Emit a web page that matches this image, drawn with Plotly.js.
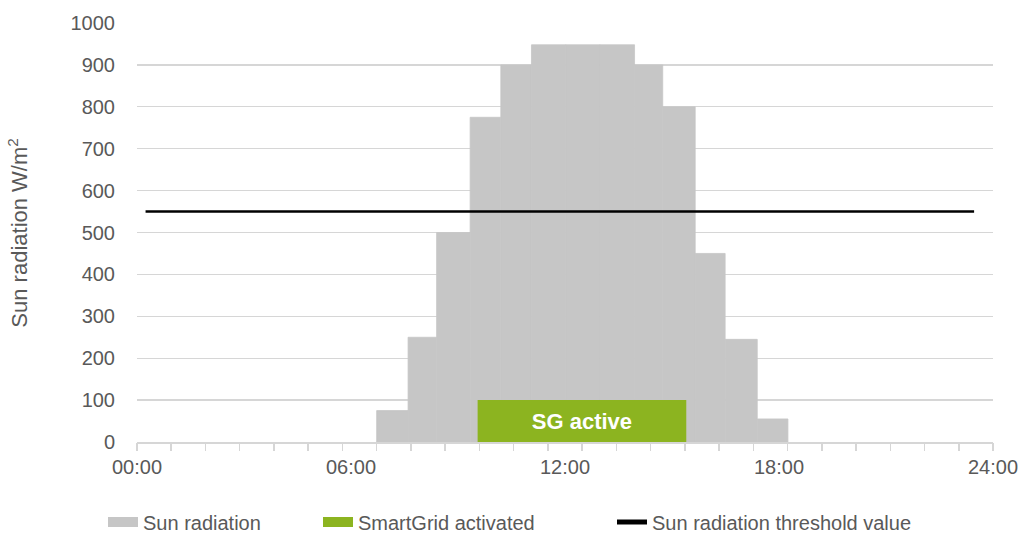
<!DOCTYPE html>
<html>
<head>
<meta charset="utf-8">
<script src="https://cdn.plot.ly/plotly-3.0.1.min.js"></script>
<style>html,body{margin:0;padding:0;background:#fff;}#chart{width:1025px;height:533px;}</style>
</head>
<body>
<div id="chart"></div>
<script>
// ---- data (hours of day / W per m²) ----
var radiationEdges = [6.72, 7.60, 8.40, 9.34, 10.20, 11.06, 12.02, 12.98, 13.95, 14.74, 15.65, 16.49, 17.39, 18.25];
var radiationValues = [75, 250, 500, 775, 900, 948, 948, 948, 900, 800, 450, 245, 55];
var smartGridStart = 9.55;
var smartGridEnd = 15.40;
var smartGridValue = 100;
var smartGridLabel = 'SG active';
var thresholdX = [0.24, 23.47];
var thresholdValue = 550;
var xTickVals = [0, 6, 12, 18, 24];
var xTickText = ['00:00', '06:00', '12:00', '18:00', '24:00'];
var yTickVals = [0, 100, 200, 300, 400, 500, 600, 700, 800, 900, 1000];
var seriesNames = ['Sun radiation', 'SmartGrid activated', 'Sun radiation threshold value'];
var minorTickCount = 25;

// ---- derived ----
var barX = [], barW = [];
for (var i = 0; i < radiationValues.length; i++) {
  barX.push((radiationEdges[i] + radiationEdges[i + 1]) / 2);
  barW.push(radiationEdges[i + 1] - radiationEdges[i]);
}
var minorTicks = [];
for (var k = 0; k <= minorTickCount; k++) minorTicks.push(24 * k / minorTickCount);

var GRAY = '#c6c6c6', GREEN = '#8cb420', TXT = '#595959', GRID = '#d6d6d6';
var FONT = 'Liberation Sans, Arial, sans-serif';

var traces = [
  {type: 'bar', x: barX, y: radiationValues, width: barW, marker: {color: GRAY, line: {width: 0.8, color: GRAY}},
   showlegend: false, hoverinfo: 'skip'},
  {type: 'bar', x: [(smartGridStart + smartGridEnd) / 2], y: [smartGridValue], width: [smartGridEnd - smartGridStart],
   marker: {color: GREEN, line: {width: 0}}, text: [smartGridLabel], textposition: 'inside',
   insidetextanchor: 'middle', constraintext: 'none',
   textfont: {family: FONT, size: 22, color: '#ffffff', weight: 'bold'},
   showlegend: false, hoverinfo: 'skip'},
  {type: 'scatter', mode: 'lines', x: thresholdX, y: [thresholdValue, thresholdValue],
   line: {color: '#000000', width: 2.5}, showlegend: false, hoverinfo: 'skip'},
  // legend entries
  {type: 'scatter', mode: 'lines', x: [null], y: [null], xaxis: 'x2', name: seriesNames[0],
   line: {color: GRAY, width: 10}, legend: 'legend'},
  {type: 'scatter', mode: 'lines', x: [null], y: [null], xaxis: 'x2', name: seriesNames[1],
   line: {color: GREEN, width: 10}, legend: 'legend2'},
  {type: 'scatter', mode: 'lines', x: [null], y: [null], xaxis: 'x2', name: seriesNames[2],
   line: {color: '#000000', width: 5}, legend: 'legend3'}
];

function leg(px) {
  return {orientation: 'h', xref: 'container', yref: 'container', x: px / 1025, y: 1 - 522 / 533,
          xanchor: 'left', yanchor: 'middle', font: {family: FONT, size: 20, color: TXT},
          bgcolor: 'rgba(0,0,0,0)'};
}

var layout = {
  width: 1025, height: 533,
  margin: {l: 137, r: 32, t: 23, b: 91},
  paper_bgcolor: '#ffffff', plot_bgcolor: '#ffffff',
  barmode: 'overlay',
  font: {family: FONT, color: TXT, size: 20},
  showlegend: true,
  legend: leg(103), legend2: leg(318), legend3: leg(612),
  xaxis: {range: [0, 24], tickvals: xTickVals, ticktext: xTickText, ticks: '', showgrid: false,
          zeroline: false, showline: true, linecolor: GRID, linewidth: 1.5,
          tickfont: {family: FONT, size: 20, color: TXT}, ticklabelstandoff: 6, fixedrange: true},
  xaxis2: {range: [0, 24], overlaying: 'x', anchor: 'y', side: 'bottom', tickvals: minorTicks,
           ticks: 'outside', ticklen: 8, tickwidth: 1.5, tickcolor: GRID, showticklabels: false,
           showgrid: false, zeroline: false, showline: false, fixedrange: true},
  yaxis: {range: [0, 1000], tickvals: yTickVals, ticks: '', showgrid: true, gridcolor: GRID, gridwidth: 1.3,
          zeroline: false, showline: false, tickfont: {family: FONT, size: 20, color: TXT},
          ticklabelstandoff: 21, fixedrange: true},
  annotations: [{xref: 'paper', yref: 'paper', x: -0.14, y: 0.5, xanchor: 'center', yanchor: 'middle',
                 textangle: -90, showarrow: false, text: 'Sun radiation W/m<sup>2</sup>',
                 font: {family: FONT, size: 22, color: TXT}}]
};

Plotly.newPlot('chart', traces, layout, {staticPlot: true, displayModeBar: false});
</script>
</body>
</html>
